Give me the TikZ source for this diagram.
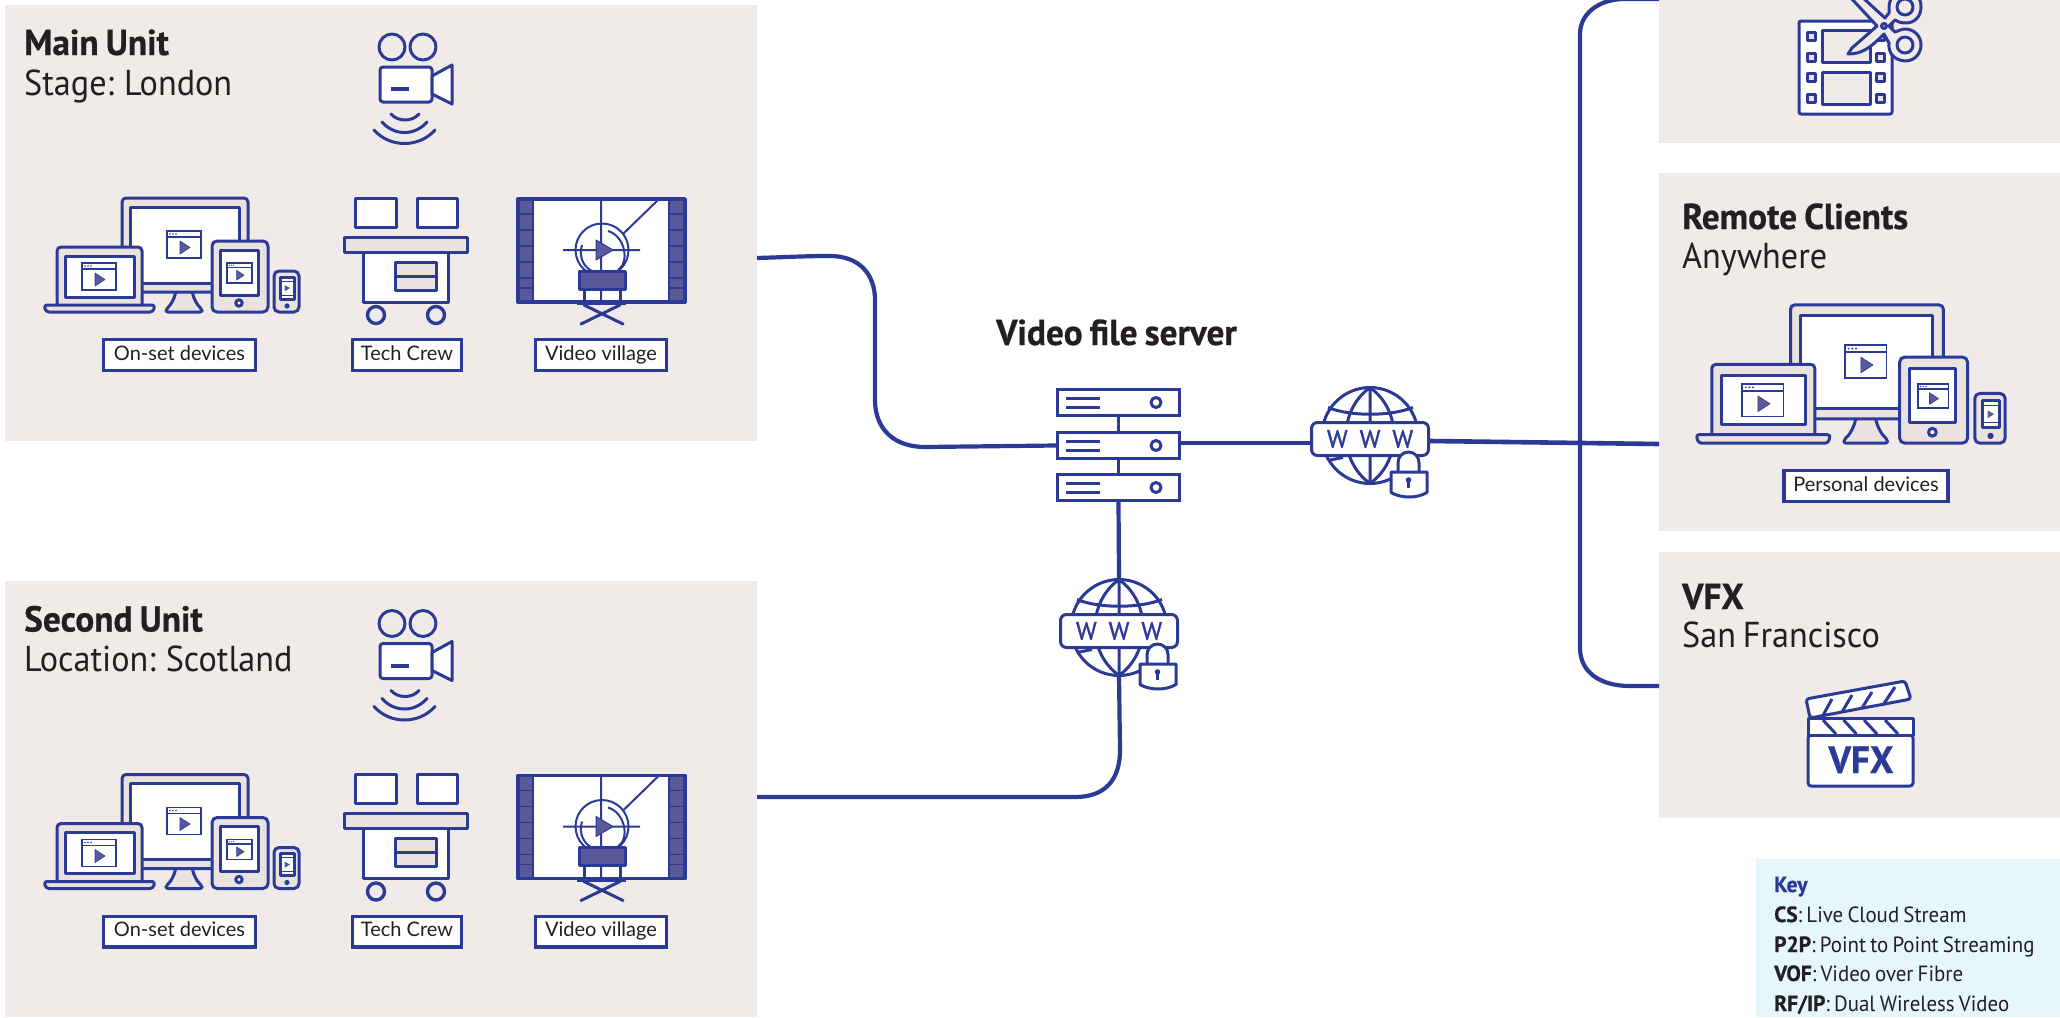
\documentclass[tikz,border=0pt]{standalone}
\usepackage{fontspec}
\setmainfont{PT Sans}
\newfontfamily\din[FakeStretch=0.95,WordSpace=0.75,BoldFeatures={FakeStretch=0.98,FakeBold=0.6,WordSpace=0.8}]{PT Sans}
\newfontfamily\dinw[FakeBold=1.2]{PT Sans}
\newfontfamily\geo{Lato}
\definecolor{blu}{HTML}{2B3A96}
\definecolor{pan}{HTML}{F0EBE9}
\definecolor{gra}{HTML}{E9E2DF}
\definecolor{fil}{HTML}{5A5A9B}
\definecolor{keyb}{HTML}{E5F6FC}
\definecolor{ink}{HTML}{231F20}
\tikzset{
 panel/.style={fill=pan,draw=none,anchor=north west,inner sep=0pt},
 conn/.style={draw=blu,line width=4.2pt},
 ic/.style={draw=blu,line width=3pt,line join=round},
 thin/.style={draw=blu,line width=1.6pt},
 head/.style={anchor=base west,inner sep=0pt,text=ink,font=\din\fontsize{36}{36}\selectfont\bfseries},
 sub/.style={anchor=base west,inner sep=0pt,text=ink,font=\din\fontsize{36}{36}\selectfont},
 lab/.style={draw=blu,line width=3.4pt,fill=white,inner sep=0pt,text=ink,font=\geo\fontsize{20}{20}\selectfont,text height=15pt,text depth=5pt,minimum height=30.6pt},
 keytxt/.style={anchor=base west,inner sep=0pt,text=ink,font=\din\fontsize{22}{22}\selectfont},
}
\newcommand{\win}[3]{\begin{scope}[shift={(#1,#2)},scale=#3]
 \draw[thin,fill=white] (0,0) rectangle (34,27); \draw[thin] (0,6)--(34,6);
 \fill[blu] (3,3) circle (.9) (6,3) circle (.9) (9,3) circle (.9);
 \fill[fil,draw=blu,line width=.6pt,line join=round] (13,10)--(13,23)--(23,16.5)--cycle;
\end{scope}}
\newcommand{\devices}[3]{\begin{scope}[shift={(#1,#2)},scale=#3]
 \draw[ic,fill=gra,rounded corners=2pt] (176,291) .. controls (174,300) and (170,306) .. (166,309) -- (166,312) -- (202,312) -- (202,309) .. controls (198,306) and (194,300) .. (192,291) -- cycle;
 \draw[ic,fill=gra,rounded corners=4pt] (122,198) rectangle (248,292);
 \draw[ic,fill=white] (130,207) rectangle (239,283);
 \win{167}{231}{1}
 \draw[ic,fill=gra,rounded corners=4pt] (57,305) -- (57,247) -- (142,247) -- (142,305);
 \draw[ic,fill=white] (65,256) rectangle (134,297);
 \win{82}{263}{1}
 \draw[ic,fill=gra,rounded corners=3pt] (44,305) -- (155,305) -- (153,312) -- (46,312) -- cycle;
 \draw[ic,fill=gra,rounded corners=5pt] (212,241) rectangle (268,312);
 \draw[ic,fill=white] (220,250) rectangle (258,295);
 \win{227}{263}{.74}
 \draw[ic,fill=white] (239,303) circle (3.2);
 \draw[ic,fill=gra,rounded corners=5pt] (274,271) rectangle (299,312);
 \draw[ic,fill=white] (280,277) rectangle (294,299);
 \draw[thin,line width=1pt] (281,281)--(293,281) (281,295)--(293,295);
 \fill[fil] (284.5,285)--(284.5,291.5)--(290,288)--cycle;
 \fill[blu] (287,306) circle (2.6);
\end{scope}}
\newcommand{\cart}[1]{\begin{scope}[shift={(0,#1)}]
 \draw[ic,fill=white] (355,198) rectangle (396,227);
 \draw[ic,fill=white] (417,198) rectangle (457,227);
 \draw[ic,fill=white] (363,252) rectangle (448,302);
 \draw[ic,fill=gra] (344,237) rectangle (467,252);
 \draw[ic,fill=gra] (395,262) rectangle (436,290); \draw[ic] (395,276)--(436,276);
 \draw[ic,line width=3.4pt] (376,315) circle (8.5) (436,315) circle (8.5);
\end{scope}}
\newcommand{\village}[1]{\begin{scope}[shift={(0,#1)}]
 \draw[ic,fill=white] (518,199) rectangle (685,302);
 \foreach \xa/\xb in {518/533,669/685}{
  \fill[fil] (\xa,199) rectangle (\xb,302);
  \draw[ic,line width=2.2pt] (\xa,199) rectangle (\xb,302);
  \foreach \yy in {214,230,246,262,278,288}{\draw[blu,line width=1.4pt] (\xa,\yy)--(\xb,\yy);}
 }
 \draw[ic,line width=3.4pt] (518,199) rectangle (685,302);
 \draw[thin,line width=2pt] (601,199)--(601,302) (658,200)--(623,234) (563,250)--(640,250);
 \draw[thin,line width=2pt] (602,250) circle (26.5);
 \draw[thin,line width=2pt] (608,231) .. controls (625,236) and (630,262) .. (618,270);
 \draw[thin,line width=2pt] (582,245) .. controls (578,258) and (585,268) .. (592,271);
 \fill[fil,draw=blu,line width=1pt,line join=round] (596,240)--(596,260)--(613,250)--cycle;
 \draw[ic,fill=fil] (579,271) rectangle (625,289);
 \draw[ic] (584,289)--(584,302) (620,289)--(620,302);
 \draw[ic,line width=3.4pt] (577,303.5)--(626,303.5);
 \draw[ic,line cap=round] (581,324)--(620,305) (623,324)--(584,305);
\end{scope}}
\newcommand{\camera}[1]{\begin{scope}[shift={(0,#1)}]
 \draw[ic] (392,47) circle (13) (423,47) circle (13);
 \draw[ic,fill=white,rounded corners=3pt] (380,67) rectangle (432,102);
 \draw[ic,fill=white] (432,76)--(452,65)--(452,104)--(432,94)--cycle;
 \draw[blu,line width=4pt] (391,89)--(409,89);
 \draw[ic,line cap=round] (391,114) .. controls (398,122) and (412,122) .. (419,114)
  (382,122) .. controls (394,136) and (415,136) .. (427,122)
  (374,130) .. controls (390,148) and (419,148) .. (435,130);
\end{scope}}
\newcommand{\globe}[3]{\begin{scope}[shift={(#1,#2)}]
 \draw[ic] (0,0) circle (48);
 \draw[ic] (0,-48)--(0,48) (0,-48) .. controls (-32,-25) and (-32,25) .. (0,48) (0,-48) .. controls (32,-25) and (32,25) .. (0,48);
 \draw[ic] (-42,-28) .. controls (-20,-19) and (20,-19) .. (43,-28);
 \draw[ic] (-42,25)--(-27,22);
 \node[draw=blu,line width=3pt,fill=white,rounded corners=6pt,inner sep=0pt,minimum width=117pt,minimum height=33pt,text=blu,font=\dinw\fontsize{25}{25}\selectfont] (#3) at (0,3.5) {\spaceskip=12pt W W W};
 \draw[ic,fill=white] (28,37) -- (28,27) arc (180:360:10.5) -- (49,37);
 \draw[ic,fill=white] (21,36.5) -- (57,36.5) -- (57,57) .. controls (47,63) and (31,63) .. (21,57) -- cycle;
 \fill[blu] (38.5,44.5) circle (2.8); \draw[blu,line width=2.4pt] (38.5,44.5)--(38.5,52);
\end{scope}}
\begin{document}
\begin{tikzpicture}[x=1pt,y=-1pt]
\useasboundingbox (0,0) rectangle (2060,1017);
\clip (0,0) rectangle (2060,1017);
% panels
\node[panel,minimum width=752pt,minimum height=436pt] (mainp) at (5,5) {};
\node[panel,minimum width=752pt,minimum height=436pt] (secp) at (5,581) {};
\node[panel,minimum width=401pt,minimum height=143pt] (editp) at (1659,0) {};
\node[panel,minimum width=401pt,minimum height=358pt] (remp) at (1659,173) {};
\node[panel,minimum width=401pt,minimum height=266pt] (vfxp) at (1659,552) {};
\node[panel,fill=keyb,minimum width=304pt,minimum height=158pt] (keyp) at (1756,859) {};
% connector ends
\coordinate (mainout) at (757,258);
\coordinate (secout) at (757,797);
\coordinate (editin) at (1659,-1);
\coordinate (remin) at (1659,444);
\coordinate (vfxin) at (1659,686);
\coordinate (g1w) at (1310,443);
\coordinate (g1e) at (1430,441);
\coordinate (g2t) at (1119,579);
\coordinate (g2b) at (1119,676);
% server
\foreach \nm/\yy in {srva/388,srvb/431,srvc/473}{
 \node[draw=blu,line width=3pt,fill=white,anchor=north west,minimum width=122pt,minimum height=26pt,inner sep=0pt] (\nm) at (1056,\yy) {};
 \draw[ic] (1066,\yy+10)--(1100,\yy+10) (1066,\yy+19.5)--(1100,\yy+19.5);
 \draw[ic] (1156,\yy+14.5) circle (5);
}
\draw[ic] (srva.south)--(srvb.north) (srvb.south)--(srvc.north);
% connectors
\draw[conn] (mainout) .. controls (790,257) and (805,256) .. (830,256) .. controls (860,256) and (875,275) .. (875,300) -- (875,400) .. controls (875,430) and (895,447) .. (925,447) -- (srvb.west);
\draw[conn] (srvc.south) -- (g2t);
\draw[conn] (g2b) -- (1120,750) .. controls (1120,780) and (1105,797) .. (1075,797) -- (secout);
\draw[conn] (srvb.east |- g1w) -- (g1w);
\draw[conn,line width=4.6pt] (g1e) -- (remin);
\draw[conn] (editin) -- (1622,-1) .. controls (1598,0) and (1580,14) .. (1580,34) -- (1580,648) .. controls (1580,672) and (1600,686) .. (1630,686) -- (vfxin);
% globes
\globe{1370}{435.5}{gla}
\globe{1119}{627.5}{glb}
% texts
\node[head] (t1) at (24,55) {Main Unit};
\node[sub] (t2) at (24,95) {Stage: London};
\node[head] (t3) at (24,631.5) {Second Unit};
\node[sub] (t4) at (24,671.5) {Location: Scotland};
\node[head] (t5) at (1682,229) {Remote Clients};
\node[sub] (t6) at (1682,268.5) {Anywhere};
\node[head] (t7) at (1682,609) {VFX};
\node[sub] (t8) at (1682,647) {San Francisco};
\node[head] (t9) at (996,345) {Video file server};
% icons
\camera{0}\camera{576.5}
\devices{0}{0}{1}\devices{0}{576.5}{1}
\devices{1642.7}{65}{1.212}
\cart{0}\cart{576.5}
\village{0}\village{576.5}
% labels
\node[lab,minimum width=152pt] (l1) at (179.5,355) {On-set devices};
\node[lab,minimum width=108.6pt] (l2) at (407,355) {Tech Crew};
\node[lab,minimum width=130.6pt] (l3) at (601,355) {Video village};
\node[lab,minimum width=152pt] (l4) at (179.5,931.5) {On-set devices};
\node[lab,minimum width=108.6pt] (l5) at (407,931.5) {Tech Crew};
\node[lab,minimum width=130.6pt] (l6) at (601,931.5) {Video village};
\node[lab,minimum width=164pt] (l7) at (1866,486) {Personal devices};
% editorial
\draw[ic,fill=white,rounded corners=2pt] (1799,21) rectangle (1892,114);
\foreach \yy in {36,57,77,98}{
 \draw[ic,fill=gra] (1807,\yy-4) rectangle (1815,\yy+4);
 \draw[ic,fill=gra] (1876,\yy-4) rectangle (1884,\yy+4);
}
\draw[ic,fill=pan] (1822,30) rectangle (1870,62);
\draw[ic,fill=pan] (1822,72) rectangle (1870,104);
% scissors
\draw[ic,fill=pan] (1850,-3) -- (1877,26) -- (1852,48) -- (1848,54) .. controls (1862,54) and (1870,48) .. (1884,34) -- (1889,43) .. controls (1888,52) and (1893,60) .. (1905,61) .. controls (1916,61) and (1921,52) .. (1921,45) .. controls (1921,36) and (1914,29) .. (1905,29) .. controls (1902,29) and (1898,31) .. (1895,32) -- (1889,26) -- (1895,20) .. controls (1900,23) and (1903,23) .. (1906,23) .. controls (1915,23) and (1921,16) .. (1921,7) .. controls (1921,-3) and (1915,-9) .. (1905,-9) .. controls (1896,-9) and (1889,-2) .. (1889,7) -- (1889,13) -- (1885,18) -- (1862,-3) -- cycle;
\draw[ic] (1905,45) circle (8) (1905,7) circle (8) (1884,26) circle (2.5);
% clapper
\draw[ic,fill=white,rounded corners=3pt] (1808,735) -- (1808,786) -- (1913,786) -- (1913,735) -- cycle;
\draw[ic,fill=white] (1808,718) rectangle (1913,735);
\foreach \xx in {0,20.5,41,62}{\draw[ic] (1823+\xx,720) -- (1836+\xx,734);}
\draw[ic,fill=white,rounded corners=3pt] (1806,699) -- (1905,681) -- (1911,699) -- (1810,718) -- cycle;
\draw[ic] (1822,717)--(1832,699) (1842,712)--(1852,695) (1862,708)--(1872,692) (1883,705)--(1895,687);
\node[anchor=base,inner sep=0pt,text=blu,font=\din\fontsize{38}{38}\selectfont\bfseries] (vfxt) at (1861,773) {VFX};
% key
\node[keytxt,text=blu,font=\din\fontsize{22}{22}\selectfont\bfseries] (k0) at (1774,892) {Key};
\node[keytxt] (k1) at (1774,922) {\textbf{CS}: Live Cloud Stream};
\node[keytxt] (k2) at (1774,952) {\textbf{P2P}: Point to Point Streaming};
\node[keytxt] (k3) at (1774,981) {\textbf{VOF}: Video over Fibre};
\node[keytxt] (k4) at (1774,1011) {\textbf{RF/IP}: Dual Wireless Video};
\end{tikzpicture}
\end{document}
